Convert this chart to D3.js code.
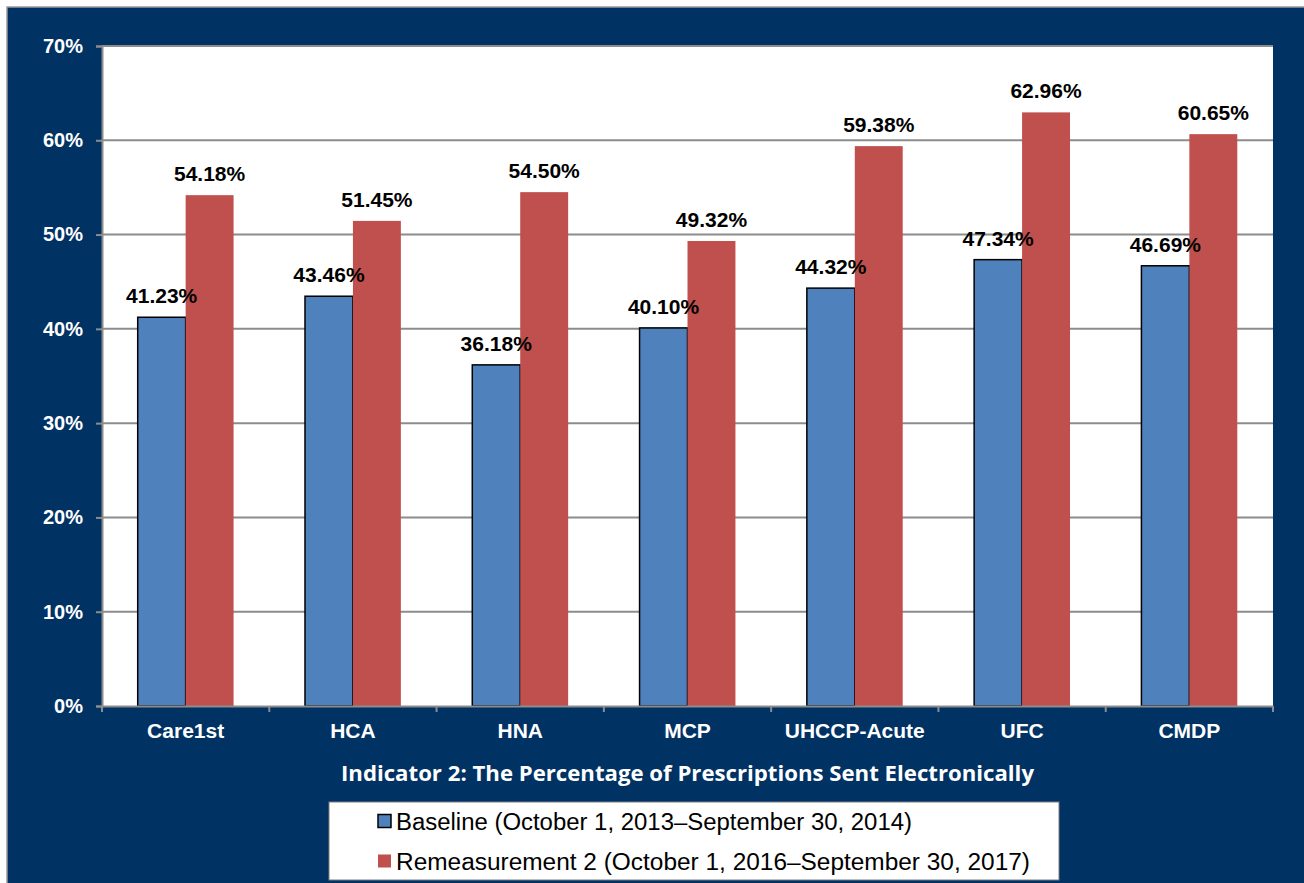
<!DOCTYPE html>
<html lang="en">
<head>
<meta charset="utf-8">
<title>Indicator 2: The Percentage of Prescriptions Sent Electronically</title>
<script src="https://cdn.jsdelivr.net/npm/d3@7"></script>
<style>
  body { margin: 0; background: #fff; }
  svg { display: block; }
</style>
</head>
<body>
<svg width="1304" height="883"></svg>
<script>
// data
var categories = ["Care1st", "HCA", "HNA", "MCP", "UHCCP-Acute", "UFC", "CMDP"];
var baseline = [41.23, 43.46, 36.18, 40.10, 44.32, 47.34, 46.69];
var remeasurement = [54.18, 51.45, 54.50, 49.32, 59.38, 62.96, 60.65];
var seriesNames = ["Baseline (October 1, 2013\u2013September 30, 2014)",
                   "Remeasurement 2 (October 1, 2016\u2013September 30, 2017)"];
var yTicks = [0, 10, 20, 30, 40, 50, 60, 70];
var title = "Indicator 2: The Percentage of Prescriptions Sent Electronically";

var colors = ["#4f81bd", "#c0504d"];
var navy = "#003263";

var margin = {top: 46, right: 31, bottom: 177, left: 102},
    width = 1304 - margin.left - margin.right,
    height = 883 - margin.top - margin.bottom;

var svg = d3.select("svg");

// outer frame
svg.append("rect")
    .attr("x", 7).attr("y", 7)
    .attr("width", 1304).attr("height", 883)
    .attr("fill", navy)
    .attr("stroke", "#9a9a9a")
    .attr("stroke-width", 1.5);

var g = svg.append("g")
    .attr("transform", "translate(" + margin.left + "," + margin.top + ")");

// scales
var x0 = d3.scaleBand()
    .domain(categories)
    .range([0, width])
    .padding(0);

var x1 = d3.scaleBand()
    .domain([0, 1])
    .range([0, x0.bandwidth()])
    .paddingInner(0)
    .paddingOuter(0.745);

var y = d3.scaleLinear()
    .domain([0, 70])
    .range([height, 0]);

// plot area
g.append("rect")
    .attr("width", width)
    .attr("height", height)
    .attr("fill", "#fff");

// gridlines
g.selectAll(".grid")
    .data(yTicks.slice(1))
  .enter().append("line")
    .attr("x1", 0).attr("x2", width)
    .attr("y1", function(d) { return y(d); })
    .attr("y2", function(d) { return y(d); })
    .attr("stroke", "#8c8c8c")
    .attr("stroke-width", 2);

// bars
var rows = categories.map(function(c, i) {
  return {name: c, values: [baseline[i], remeasurement[i]]};
});

var groups = g.selectAll(".group")
    .data(rows)
  .enter().append("g")
    .attr("transform", function(d) { return "translate(" + x0(d.name) + ",0)"; });

groups.selectAll("rect")
    .data(function(d) { return d.values.map(function(v, k) { return {k: k, v: v}; }); })
  .enter().append("rect")
    .attr("x", function(d) { return x1(d.k); })
    .attr("y", function(d) { return y(d.v); })
    .attr("width", x1.bandwidth())
    .attr("height", function(d) { return height - y(d.v); })
    .attr("fill", function(d) { return colors[d.k]; })
    .attr("stroke", function(d) { return d.k === 0 ? "#000" : "none"; })
    .attr("stroke-width", 1.5);

// data labels
groups.selectAll(".lbl")
    .data(function(d) { return d.values.map(function(v, k) { return {k: k, v: v}; }); })
  .enter().append("text")
    .attr("x", function(d) { return x1(d.k) + x1.bandwidth() / 2; })
    .attr("y", function(d) { return y(d.v) - 14; })
    .attr("text-anchor", "middle")
    .style("font", "bold 21px 'Liberation Sans', Arial, sans-serif")
    .attr("fill", "#000")
    .text(function(d) { return d.v.toFixed(2) + "%"; });

// y axis
var yAxis = g.append("g")
    .call(d3.axisLeft(y).tickValues(yTicks).tickSize(6).tickPadding(13)
      .tickFormat(function(d) { return d + "%"; }));
yAxis.select(".domain").attr("stroke", "#8c8c8c").attr("stroke-width", 2);
yAxis.selectAll(".tick line").attr("stroke", "#8c8c8c").attr("stroke-width", 2);
yAxis.selectAll("text")
    .attr("fill", "#fff")
    .style("font", "bold 20px 'Liberation Sans', Arial, sans-serif");

// x axis
var xAxis = g.append("g")
    .attr("transform", "translate(0," + height + ")")
    .call(d3.axisBottom(x0).tickSize(0).tickPadding(17));
xAxis.select(".domain").attr("stroke", "#8c8c8c").attr("stroke-width", 2);
xAxis.selectAll("text")
    .attr("fill", "#fff")
    .style("font", "bold 21px 'Liberation Sans', Arial, sans-serif");
xAxis.selectAll(".sep")
    .data(d3.range(categories.length + 1))
  .enter().append("line")
    .attr("x1", function(i) { return i * x0.step(); })
    .attr("x2", function(i) { return i * x0.step(); })
    .attr("y1", 0).attr("y2", 6)
    .attr("stroke", "#8c8c8c")
    .attr("stroke-width", 2);

// title
svg.append("text")
    .attr("x", margin.left + width / 2)
    .attr("y", 781)
    .attr("text-anchor", "middle")
    .attr("fill", "#fff")
    .attr("textLength", 693)
    .attr("lengthAdjust", "spacingAndGlyphs")
    .style("font", "bold 22px 'Open Sans', sans-serif")
    .text(title);

// legend
var legend = svg.append("g").attr("transform", "translate(329,802)");
legend.append("rect")
    .attr("width", 730).attr("height", 78)
    .attr("fill", "#fff")
    .attr("stroke", "#7f7f7f");

var legendWidths = [516, 634];

var items = legend.selectAll(".item")
    .data(seriesNames)
  .enter().append("g")
    .attr("transform", function(d, i) { return "translate(49," + (19 + i * 40) + ")"; });

items.append("rect")
    .attr("x", 0).attr("y", -6.5)
    .attr("width", 13).attr("height", 13)
    .attr("fill", function(d, i) { return colors[i]; })
    .attr("stroke", function(d, i) { return i === 0 ? "#000" : "none"; })
    .attr("stroke-width", 1.5);

items.append("text")
    .attr("x", 18)
    .attr("y", 8.5)
    .attr("fill", "#000")
    .attr("textLength", function(d, i) { return legendWidths[i]; })
    .attr("lengthAdjust", "spacingAndGlyphs")
    .style("font", "23px 'Liberation Sans', Arial, sans-serif")
    .text(function(d) { return d; });
</script>
</body>
</html>
